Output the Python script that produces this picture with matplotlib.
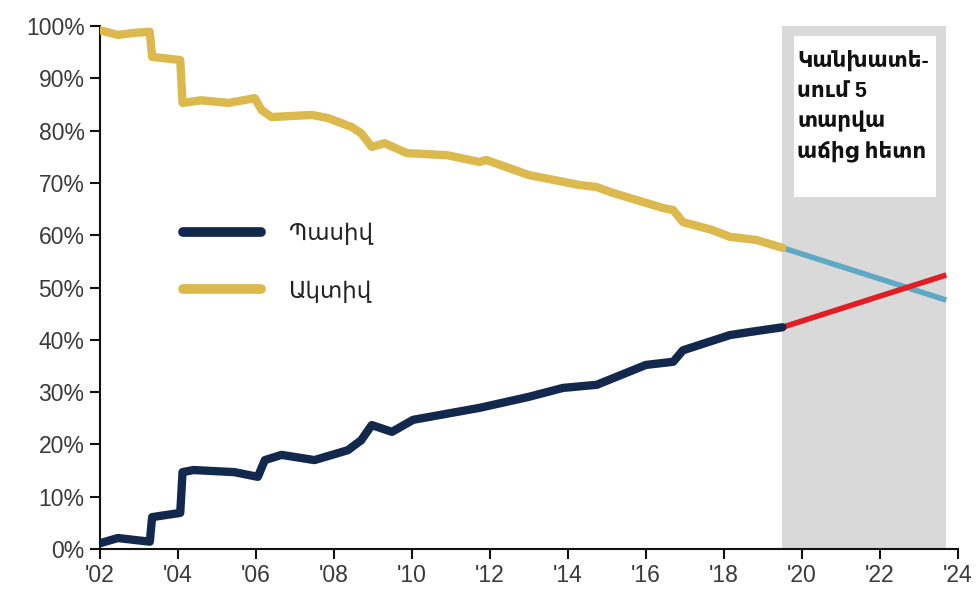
import matplotlib
matplotlib.use("Agg")
import matplotlib.pyplot as plt
from matplotlib.lines import Line2D
from matplotlib.ticker import FuncFormatter

plt.rcParams['font.family'] = ['Liberation Sans', 'DejaVu Sans']

# historical data (share of assets, %)
passive_years = [2002.0, 2002.46, 2003.28, 2003.34, 2004.06, 2004.12, 2004.4, 2005.45,
                 2006.05, 2006.23, 2006.66, 2007.5, 2008.36, 2008.7, 2008.97, 2009.49,
                 2010.03, 2011.74, 2013.0, 2013.87, 2014.74, 2016.0, 2016.7, 2016.95,
                 2018.15, 2018.67, 2019.5]
passive = [1.1, 2.1, 1.4, 6.1, 6.9, 14.7, 15.1, 14.7,
           13.8, 17.0, 18.0, 17.0, 18.9, 20.8, 23.7, 22.4,
           24.7, 27.0, 29.1, 30.8, 31.4, 35.2, 35.8, 38.0,
           40.9, 41.5, 42.4]

active_years = [2002.0, 2002.46, 2002.9, 2003.28, 2003.34, 2004.06, 2004.12, 2004.6,
                2005.3, 2005.97, 2006.15, 2006.4, 2007.44, 2007.85, 2008.45, 2008.7,
                2008.97, 2009.3, 2009.87, 2010.9, 2011.74, 2011.9, 2013.0, 2014.3,
                2014.74, 2015.15, 2016.44, 2016.7, 2016.95, 2017.7, 2018.15, 2018.83,
                2019.5]
active = [99.2, 98.3, 98.7, 98.9, 94.1, 93.5, 85.3, 85.8,
          85.3, 86.2, 83.9, 82.6, 83.0, 82.4, 80.7, 79.5,
          76.9, 77.6, 75.7, 75.3, 74.0, 74.4, 71.5, 69.6,
          69.2, 68.1, 65.2, 64.8, 62.5, 61.0, 59.7, 59.1,
          57.6]

# 5-year growth projection
fc_years = [2019.5, 2023.7]
fc_passive = [42.4, 52.4]
fc_active = [57.6, 47.6]

x_ticks = list(range(2002, 2025, 2))
y_ticks = list(range(0, 101, 10))

navy = '#13284d'
gold = '#dbb94c'
light_blue = '#5fa9c4'
red = '#e01e24'

fig = plt.figure(figsize=(9.79, 6.01), dpi=100)
ax = fig.add_axes([0.102, 0.0865, 0.8765, 0.8702])

ax.axvspan(2019.5, 2023.7, color='#d9d9d9', zorder=0, lw=0)

ax.plot(active_years, active, color=gold, lw=6, solid_joinstyle='round',
        solid_capstyle='round', zorder=3)
ax.plot(passive_years, passive, color=navy, lw=6, solid_joinstyle='round',
        solid_capstyle='round', zorder=3)
ax.plot(fc_years, fc_active, color=light_blue, lw=4, solid_capstyle='butt', zorder=2)
ax.plot(fc_years, fc_passive, color=red, lw=4, solid_capstyle='butt', zorder=2)

ax.set_xlim(2002, 2024)
ax.set_ylim(0, 100)
ax.set_xticks(x_ticks)
ax.set_xticklabels(["'%02d" % (y % 100) for y in x_ticks])
ax.set_yticks(y_ticks)
ax.yaxis.set_major_formatter(FuncFormatter(lambda v, p: '%d%%' % v))

for s in ['top', 'right']:
    ax.spines[s].set_visible(False)
for s in ['left', 'bottom']:
    ax.spines[s].set_linewidth(1.5)
    ax.spines[s].set_color('#111111')
ax.tick_params(axis='both', length=7, width=1.5, color='#111111',
               labelsize=16.5, labelcolor='#3a3a3a', pad=4)

# annotation box
ax.add_patch(plt.Rectangle((2019.8, 67.3), 3.64, 30.8, facecolor='white',
                           edgecolor='none', zorder=4))
ax.text(2019.88, 95.3, 'Կանխատե-\nսում 5\nտարվա\nաճից հետո', fontsize=15.5,
        fontweight='bold', color='#111111', va='top', ha='left',
        linespacing=1.55, zorder=5)

handles = [Line2D([], [], color=navy, lw=7, solid_capstyle='round'),
           Line2D([], [], color=gold, lw=7, solid_capstyle='round')]
ax.legend(handles, ['Պասիվ', 'Ակտիվ'], loc='upper left',
          bbox_to_anchor=(0.097, 0.625), frameon=False, fontsize=16.5,
          handlelength=3.4, handletextpad=1.2, labelspacing=1.5, borderpad=0,
          borderaxespad=0, labelcolor='#222222')

fig.savefig('out.png', dpi=100)
